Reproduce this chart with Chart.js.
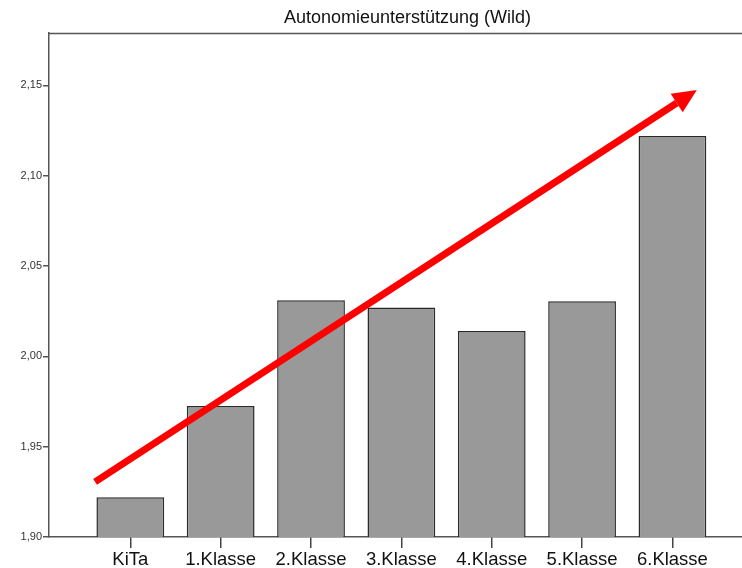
<!DOCTYPE html>
<html>
<head>
<meta charset="utf-8">
<script src="https://cdn.jsdelivr.net/npm/chart.js@4"></script>
<style>
  html, body { margin: 0; padding: 0; background: #fff; }
  #wrap { width: 742px; height: 568px; }
</style>
</head>
<body>
<div id="wrap"><canvas id="chart" width="742" height="568"></canvas></div>
<script>
const title = 'Autonomieunterstützung (Wild)';
const categories = ['KiTa', '1.Klasse', '2.Klasse', '3.Klasse', '4.Klasse', '5.Klasse', '6.Klasse'];
const means = [1.922, 1.9725, 2.031, 2.027, 2.014, 2.0305, 2.122];
const yTicks = [1.90, 1.95, 2.00, 2.05, 2.10, 2.15];
// trend arrow, in data units (x = category index)
const arrowFrom = { x: -0.39, y: 1.9305 };
const arrowTo = { x: 6.27, y: 2.1475 };

const frame = {
  id: 'frame',
  afterDraw(chart) {
    const { ctx, chartArea: a, scales } = chart;
    ctx.save();
    ctx.strokeStyle = '#555';
    ctx.lineWidth = 1.5;
    ctx.beginPath();
    ctx.moveTo(a.left, a.top + 0.5);
    ctx.lineTo(a.right, a.top + 0.5);
    ctx.stroke();

    // title, slightly right of the plot centre like the original
    ctx.fillStyle = '#111';
    ctx.font = '18px "Liberation Sans", Arial';
    ctx.textAlign = 'center';
    ctx.textBaseline = 'middle';
    ctx.fillText(title, (a.left + a.right) / 2 + 12, 18);

    // red arrow
    const x1 = scales.x.getPixelForValue(arrowFrom.x);
    const y1 = scales.y.getPixelForValue(arrowFrom.y);
    const x2 = scales.x.getPixelForValue(arrowTo.x);
    const y2 = scales.y.getPixelForValue(arrowTo.y);
    const ang = Math.atan2(y2 - y1, x2 - x1);
    const headLen = 24, headW = 11;
    const bx = x2 - headLen * Math.cos(ang);
    const by = y2 - headLen * Math.sin(ang);
    ctx.strokeStyle = '#ff0000';
    ctx.fillStyle = '#ff0000';
    ctx.lineWidth = 7;
    ctx.beginPath();
    ctx.moveTo(x1, y1);
    ctx.lineTo(bx, by);
    ctx.stroke();
    ctx.beginPath();
    ctx.moveTo(x2, y2);
    ctx.lineTo(bx + headW * Math.sin(ang), by - headW * Math.cos(ang));
    ctx.lineTo(bx - headW * Math.sin(ang), by + headW * Math.cos(ang));
    ctx.closePath();
    ctx.fill();
    ctx.restore();
  }
};

new Chart(document.getElementById('chart'), {
  type: 'bar',
  data: {
    datasets: [{
      data: means.map((v, i) => ({ x: i, y: v })),
      backgroundColor: '#999999',
      borderColor: '#2a2a2a',
      borderWidth: 1.5,
      borderSkipped: false,
      barPercentage: 0.75,
      categoryPercentage: 1,
    }],
  },
  plugins: [frame],
  options: {
    responsive: false,
    animation: false,
    layout: { padding: { left: 0, right: 0, top: 33, bottom: 0 } },
    plugins: {
      legend: { display: false },
      tooltip: { enabled: false },
      title: { display: false },
    },
    scales: {
      x: {
        type: 'linear',
        offset: false,
        min: -0.9,
        max: 6.77,
        afterBuildTicks: (s) => { s.ticks = categories.map((_, i) => ({ value: i })); },
        afterFit: (s) => { s.height = 31; },
        grid: { display: true, offset: false, drawOnChartArea: false, drawTicks: true, tickLength: 11, color: '#444', lineWidth: 1.5 },
        border: { display: true, color: '#555', width: 1.5 },
        ticks: {
          autoSkip: false,
          maxRotation: 0,
          padding: 1,
          color: '#111',
          font: { family: 'Liberation Sans, Arial', size: 18.5 },
          callback: (v) => categories[v] ?? '',
        },
      },
      y: {
        min: 1.90,
        max: 2.179,
        afterBuildTicks: (s) => { s.ticks = yTicks.map((v) => ({ value: v })); },
        afterFit: (s) => { s.width = 49; },
        grid: { display: true, drawOnChartArea: false, drawTicks: true, tickLength: 6, color: '#555', lineWidth: 1.5 },
        border: { display: true, color: '#555', width: 1.5 },
        ticks: {
          padding: 1,
          color: '#333',
          font: { family: 'Liberation Sans, Arial', size: 11 },
          callback: (v) => v.toFixed(2).replace('.', ','),
        },
      },
    },
  },
});
</script>
</body>
</html>
